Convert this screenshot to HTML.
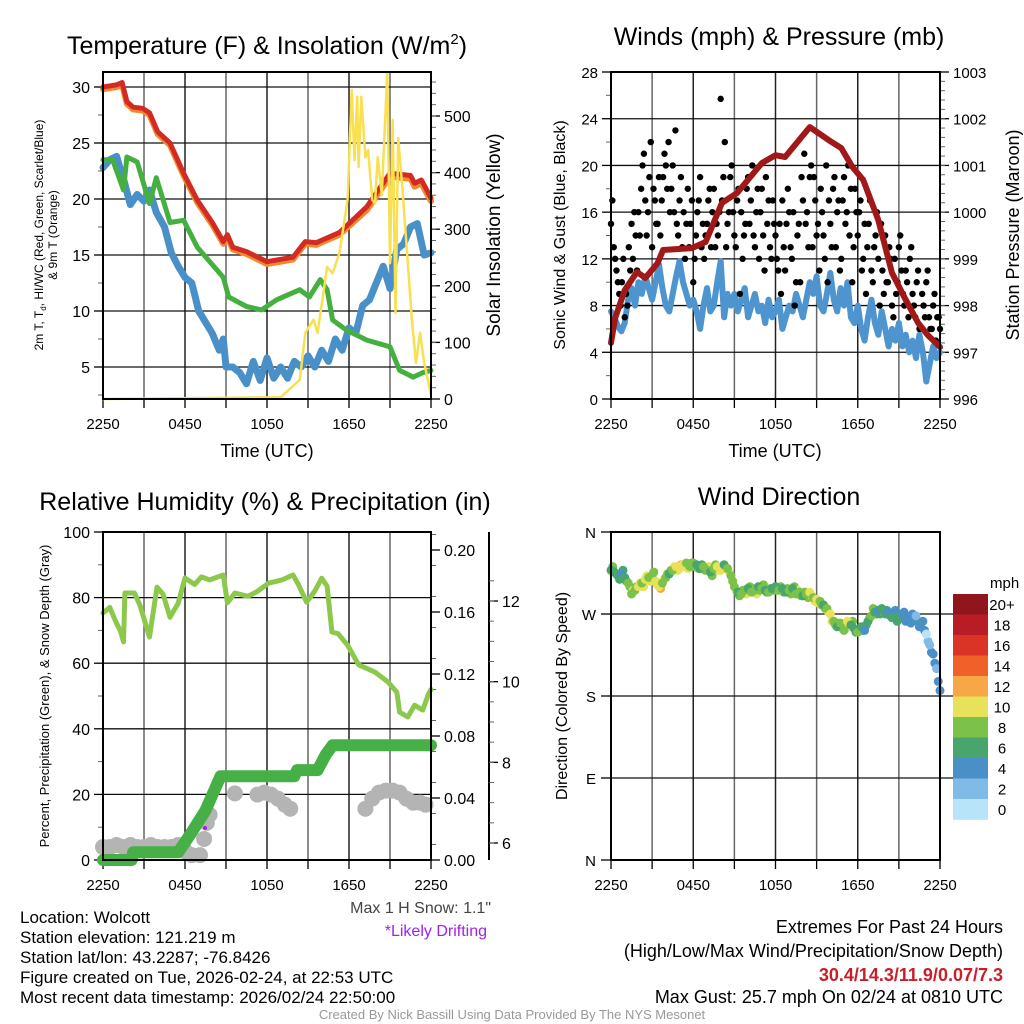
<!DOCTYPE html>
<html><head><meta charset="utf-8"><style>
html,body{margin:0;padding:0;background:#fff;}
svg{display:block;font-family:"Liberation Sans",sans-serif;}
</style></head><body>
<svg id="svg" width="1024" height="1024" viewBox="0 0 1024 1024" xmlns="http://www.w3.org/2000/svg">
<rect x="0" y="0" width="1024" height="1024" fill="#fff"/>
<g id="layer"></g>
<text x="267" y="54" font-size="25" text-anchor="middle">Temperature (F) &amp; Insolation (W/m<tspan font-size="15" dy="-10">2</tspan><tspan dy="10">)</tspan></text>
<text x="779" y="45" font-size="25" text-anchor="middle">Winds (mph) &amp; Pressure (mb)</text>
<text x="265" y="510" font-size="25" text-anchor="middle">Relative Humidity (%) &amp; Precipitation (in)</text>
<text x="779" y="505" font-size="25" text-anchor="middle">Wind Direction</text>
<text x="267" y="457" font-size="18" text-anchor="middle">Time (UTC)</text>
<text x="775" y="457" font-size="18" text-anchor="middle">Time (UTC)</text>
<text transform="translate(43,235) rotate(-90)" font-size="12" text-anchor="middle">2m T, T<tspan font-size="8" dy="3">d</tspan><tspan dy="-3">, HI/WC (Red, Green, Scarlet/Blue)</tspan></text>
<text transform="translate(57,235) rotate(-90)" font-size="12" text-anchor="middle">&amp; 9m T (Orange)</text>
<text transform="translate(500,235) rotate(-90)" font-size="19" text-anchor="middle">Solar Insolation (Yellow)</text>
<text transform="translate(565,235) rotate(-90)" font-size="16" text-anchor="middle">Sonic Wind &amp; Gust (Blue, Black)</text>
<text transform="translate(1019,235) rotate(-90)" font-size="18" text-anchor="middle">Station Pressure (Maroon)</text>
<text transform="translate(49,696) rotate(-90)" font-size="13" text-anchor="middle">Percent, Precipitation (Green), &amp; Snow Depth (Gray)</text>
<text transform="translate(567,696) rotate(-90)" font-size="16" text-anchor="middle">Direction (Colored By Speed)</text>
<text x="491" y="913" font-size="16" fill="#444" text-anchor="end">Max 1 H Snow: 1.1"</text>
<text x="487" y="936" font-size="16" fill="#a020f0" text-anchor="end">*Likely Drifting</text>
<g font-size="17">
<text x="20" y="923">Location: Wolcott</text>
<text x="20" y="943">Station elevation: 121.219 m</text>
<text x="20" y="963">Station lat/lon: 43.2287; -76.8426</text>
<text x="20" y="983">Figure created on Tue, 2026-02-24, at 22:53 UTC</text>
<text x="20" y="1003">Most recent data timestamp: 2026/02/24 22:50:00</text>
</g>
<g font-size="18" text-anchor="end">
<text x="1003" y="933">Extremes For Past 24 Hours</text>
<text x="1003" y="957">(High/Low/Max Wind/Precipitation/Snow Depth)</text>
<text x="1003" y="981" fill="#c8202a" font-weight="bold">30.4/14.3/11.9/0.07/7.3</text>
<text x="1003" y="1003">Max Gust: 25.7 mph On 02/24 at 0810 UTC</text>
</g>
<text x="512" y="1019" font-size="13" fill="#999" text-anchor="middle">Created By Nick Bassill Using Data Provided By The NYS Mesonet</text>
</svg>
<script>
// ---- data ----
const timeLabels = ["2250","0450","1050","1650","2250"];
const tHours = [0,1.0,1.4,1.75,2.2,2.9,3.4,4.0,4.9,5.9,6.9,8.0,8.8,9.1,9.5,10.5,12.0,13.9,14.8,15.6,17.3,19.3,21.0,22.5,22.8,23.3,24];
const tRed = [30,30.2,30.4,28.7,28.2,28.1,27.7,26.0,25.0,22.3,19.9,17.9,16.2,16.8,15.7,15.3,14.4,14.8,16.2,16.1,17.0,19.3,22.3,22.1,21.4,21.7,20.1];
const tOrange = [29.8,30.0,30.2,28.5,28.0,27.9,27.5,25.8,24.8,22.1,19.7,17.7,16.0,16.6,15.5,15.1,14.2,14.6,16.0,15.9,16.8,19.0,22.0,21.8,21.1,21.4,19.8];
const dHours = [0,0.7,1.5,1.75,2.5,3.4,3.9,4.9,5.9,6.9,8.8,9.2,10.5,11.6,12.7,14.4,15.1,15.9,16.4,16.8,17.8,19.3,21.0,21.7,22.7,23.4,24];
const tDew = [23.5,23.5,20.8,23.75,23.3,19.6,21.9,17.9,18.1,15.7,13.0,11.25,10.4,10.1,11.0,11.9,11.25,12.8,11.9,9.2,8.3,7.4,6.8,4.7,4.1,4.5,4.7];
const wcHours = [0,0.5,1,1.3,1.5,2,2.5,3,3.4,3.9,4.5,5,5.5,6,6.5,7,7.5,8,8.5,8.8,9,9.5,10,10.5,11,11.5,12,12.5,13,13.5,14,14.5,15,15.5,16,16.5,17,17.5,18,18.5,19,19.5,20,20.5,21,21.5,22,22.5,23,23.5,24];
const tWindChill = [22.8,23.5,23.8,22.5,21.8,19.5,20.4,19.8,20.8,18.8,17.5,15.2,14.0,13.0,12.5,10.0,9.0,8.0,6.5,7.5,5.0,5.0,4.5,3.5,5.5,3.8,5.8,4.0,5.0,4.0,5.5,5.0,6.0,5.0,6.5,5.5,7.5,6.5,8.5,8.0,10.5,11.0,12.5,14,12,15.5,16,17.5,17.8,15,15.2];
const solHours = [0,13,14.4,14.8,15.4,15.7,16.4,16.8,17.3,17.9,18.2,18.4,18.6,18.7,18.9,19.2,19.4,19.7,19.9,20.1,20.4,20.8,21,21.2,21.4,21.6,21.9,22.6,22.9,23.2,23.5,24];
const solar = [0,3,34,117,140,117,233,222,258,352,546,422,534,410,534,427,440,352,345,427,360,578,240,493,152,461,375,140,64,117,64,7];
const tempTicks = [5,10,15,20,25,30];
const solarTicks = [0,100,200,300,400,500];

const windTicks = [0,4,8,12,16,20,24,28];
const presTicks = [996,997,998,999,1000,1001,1002,1003];
const windSpeed = [7.5,7.0,6.2,5.8,6.5,8.5,9.5,8.0,10.0,9.0,10.5,9.5,
 8.5,10.0,11.5,9.5,8.0,7.5,9.0,10.5,11.8,10.0,9.0,8.0,
 8.5,7.5,6.0,8.0,9.5,7.5,8.0,10.0,11.8,7.0,9.0,8.0,
 9.0,7.5,8.5,9.5,7.0,8.0,9.0,7.5,8.0,6.5,8.5,7.0,
 7.5,8.5,6.0,7.0,8.0,7.5,9.0,8.0,7.0,8.5,10.0,9.0,
 10.5,8.0,7.5,9.0,10.8,8.5,7.5,9.5,8.0,10.0,7.0,6.5,
 8.0,6.0,5.0,7.0,8.5,6.5,5.5,7.5,6.0,4.5,6.0,5.0,
 6.5,4.5,5.5,4.0,5.0,3.5,5.5,4.0,1.5,3.0,4.5,3.5,4.0];
const windGust = [15,13,11,9,10,7,8,11,12,14,
 16,18,21,14,19,13,17,15,14,19,
 20,22,18,16,15,17,13,12,18,15,
 10,14,17,13,12,15,18,16,13,14,
 25.7,19,13,16,20,14,17,9,12,15,
 19,17,14,16,12,18,11,15,13,17,
 14,11,9,13,15,16,12,8,14,10,
 17,15,13,20,19,14,11,16,12,10,
 15,18,13,17,12,19,16,14,10,18,
 14,17,12,9,15,11,13,16,8,11,
 14,10,12,7,9,13,11,8,10,12,
 9,7,11,6,8,10,7,6,9,7,6];
const windGustB = [17,12,10,8,12,9,13,15,16,11,
 14,20,17,16,22,18,15,19,17,21,
 18,16,20,23,14,19,16,15,13,17,
 12,16,19,15,14,17,13,18,15,16,
 17,22,15,19,16,13,18,16,14,18,
 15,20,13,18,16,14,19,17,12,15,
 12,15,17,11,18,13,16,10,15,19,
 21,16,19,13,17,15,18,14,20,17,
 13,19,16,11,17,15,20,18,13,16,
 16,11,15,13,17,10,14,12,15,9,
 10,13,8,12,10,14,9,11,7,13,
 8,10,6,9,7,11,6,8,5,7];
const presHours = [0,0.3,1.0,1.9,2.5,3.4,3.8,5.9,6.9,8.1,9.2,11.0,12.0,12.7,14.5,16.1,16.8,17.6,18.4,19.5,20.5,21.4,22.4,23.1,24.0];
const pressure = [997.2,997.73,998.33,998.72,998.59,998.91,999.19,999.23,999.36,1000.20,1000.41,1001.05,1001.22,1001.18,1001.82,1001.50,1001.37,1000.97,1000.69,999.83,998.70,998.18,997.63,997.37,997.11];

const rhTicks = [0,20,40,60,80,100];
const precipTicks = ["0.00","0.04","0.08","0.12","0.16","0.20"];
const snowTicks = [6,8,10,12];
const rhHours = [0,0.5,0.9,1.3,1.5,1.6,2.3,2.7,3.4,3.95,4.4,4.9,5.5,6,6.7,7.2,7.8,8.8,9.1,9.65,10.6,11.3,12.1,13.1,13.9,14.3,14.9,15.5,16,16.4,16.75,17.2,17.9,18.7,19.9,20.85,21.5,21.7,22.3,22.8,23.4,23.8,24];
const rh = [75.3,77,73,69.5,66.5,81.4,81.4,77.7,68,83.2,81,74,78.3,86,84,86.3,85.4,86.9,78.4,81.4,80.4,81.9,84.4,85.4,86.9,84,78.6,82,85.9,83.5,69.5,69,65.5,59.5,57.3,54.3,51.2,45.1,43.6,47.2,45.7,50.5,52];
const precipHours = [0,2.1,2.2,5.5,6.5,7.5,8.6,14.0,14.2,15.7,16.3,16.8,24];
const precip = [0,0,0.005,0.005,0.018,0.032,0.054,0.054,0.058,0.058,0.068,0.074,0.074];
const snowHours = [0,0.5,1,1.5,2,2.5,3,3.5,4,4.5,5,5.5,6,6.5,7.1,7.4,7.6,7.8,9.65,11.3,11.8,12.3,12.8,13.3,13.7,19.2,19.7,20.2,20.7,21.2,21.7,22.2,22.7,23.2,23.6];
const snowDepth = [5.9,5.9,5.95,5.9,5.95,5.9,5.9,5.95,5.9,5.9,5.9,5.95,5.8,5.7,5.7,6.1,6.5,6.7,7.23,7.2,7.25,7.2,7.1,6.95,6.85,6.85,7.1,7.25,7.3,7.3,7.25,7.1,7.0,7.0,6.95];

const dirTicks = ["N","E","S","W","N"];
const windDir = [318,316,312,314,310,304,292,296,300,304,308,310,
 312,306,300,304,310,314,318,322,320,324,326,322,
 326,324,320,322,318,316,320,322,318,324,320,312,
 300,294,292,296,298,294,296,300,298,296,294,298,
 300,296,298,294,296,298,292,294,290,292,294,288,
 286,284,280,276,270,262,256,260,252,262,258,254,
 250,256,252,262,268,272,274,276,270,272,266,274,
 268,270,262,264,270,268,256,262,248,236,226,210,186];
const windDirB = [322,314,308,318,306,300,296,300,304,300,312,306,
 316,302,298,308,314,318,322,318,324,322,320,326,
 322,320,324,318,322,312,324,318,322,320,316,306,
 296,290,296,292,300,298,292,296,302,294,298,296,
 296,300,294,298,292,300,296,290,294,288,290,284,
 282,280,276,272,262,258,260,254,258,256,262,250,
 254,252,258,266,276,270,270,272,274,268,270,262,
 266,272,266,260,268,262,260,252,240,228,216,196];
const cbLabels = ["20+","18","16","14","12","10","8","6","4","2","0"];
const cbColors = ["#8f161c","#b81c25","#dc3327","#f0612a","#f7a745","#e7e25a","#7cc24a","#48a66c","#4a8fc6","#7fbbe6","#b8e3f8"];

// ---- helpers ----
const NS="http://www.w3.org/2000/svg";
const layer=document.getElementById('layer');
function mk(tag,attrs,parent){const e=document.createElementNS(NS,tag);for(const k in attrs)e.setAttribute(k,attrs[k]);(parent||layer).appendChild(e);return e;}
function lin(d0,d1,r0,r1){return v=>r0+(v-d0)*(r1-r0)/(d1-d0);}
function pathD(xs,ys,fx,fy){return xs.map((h,i)=>(i?'L':'M')+fx(h).toFixed(1)+','+fy(ys[i]).toFixed(1)).join('');}

function panelFrame(x0,x1,y0,y1,name){
  const g=mk('g',{});
  
  
  const fx=lin(0,24,x0,x1);
  for(let h=3;h<24;h+=3){
    const line=mk('line',{x1:fx(h),x2:fx(h),y1:y0,y2:y1,stroke:(h%6==0)?'#222':'#666','stroke-width':1.5},g);
    
    
  }
  for(let h=0;h<=24;h+=3){
    const t=mk('line',{x1:fx(h),x2:fx(h),y1:y1,y2:y1+9,stroke:'#000','stroke-width':1.3},g);
    
    
  }
  timeLabels.forEach((s,i)=>{
    const t=mk('text',{x:fx(i*6),y:y1+30,'font-size':15,'text-anchor':'middle'},g);
    t.textContent=s;
    
    
  });
  return fx;
}
function hGrid(ys,x0,x1){ys.forEach(y=>{const l=mk('line',{x1:x0,x2:x1,y1:y,y2:y,stroke:'#111','stroke-width':1.3});
 
 });}
function border(x0,x1,y0,y1,name){const r=mk('rect',{x:x0,y:y0,width:x1-x0,height:y1-y0,fill:'none',stroke:'#000','stroke-width':2});
 
 }
function yTicks(vals,fy,x,side,labels,fs,minor){
  vals.forEach((v,i)=>{
    const y=fy(v);
    mk('line',{x1:x,x2:x+side*9,y1:y,y2:y,stroke:'#000','stroke-width':1.3});
    const t=mk('text',{x:x+side*13,y:y+6,'font-size':fs||16,'text-anchor':side<0?'end':'start'});
    t.textContent=labels?labels[i]:v;
    
    
  });
  if(minor) minor.forEach(v=>{const y=fy(v);mk('line',{x1:x,x2:x+side*5,y1:y,y2:y,stroke:'#666','stroke-width':1});});
}
function series(xs,ys,fx,fy,color,w,name){
  const p=mk('path',{d:pathD(xs,ys,fx,fy),fill:'none',stroke:color,'stroke-width':w,'stroke-linejoin':'round','stroke-linecap':'round'});
  
  
  return p;
}
function speedColor(s){let i=Math.min(10,Math.floor(s/2));return cbColors[10-i];}

// ---- panel 1 ----
(function(){
  const x0=103,x1=431,y0=72,y1=399;
  const fx=panelFrame(x0,x1,y0,y1,'temperature');
  const fy=lin(30,5,87,367), fs=lin(0,500,399,116);
  hGrid(tempTicks.map(fy),x0,x1);
  const m=[];for(let v=2.5;v<31;v+=5)m.push(v);
  yTicks(tempTicks,fy,x0,-1,null,16,m);
  const ms=[];for(let v=20;v<=570;v+=20)ms.push(v);
  yTicks(solarTicks,fs,x1,1,null,16,ms);
  series(wcHours,tWindChill,fx,fy,'#4a90c8',7,'wind-chill-line');
  series(dHours,tDew,fx,fy,'#45b040',5,'dewpoint-line');
  series(tHours,tOrange,fx,fy,'#f08a30',6,'9m-temperature-line');
  series(tHours,tRed,fx,fy,'#d42a24',5,'2m-temperature-line');
  series(solHours,solar,fx,fs,'#f8e050',2.5,'solar-insolation-line');
  border(x0,x1,y0,y1,'temperature-plot-area');
})();

// ---- panel 2 ----
(function(){
  const x0=611,x1=940,y0=72,y1=399;
  const fx=panelFrame(x0,x1,y0,y1,'winds');
  const fy=lin(0,28,399,72), fp=lin(996,1003,399,72);
  hGrid(windTicks.slice(1,-1).map(fy),x0,x1);
  const m=[];for(let v=2;v<28;v+=4)m.push(v);
  yTicks(windTicks,fy,x0,-1,null,15,m);
  const mp=[];for(let v=996.2;v<1003;v+=0.2)mp.push(v);
  yTicks(presTicks,fp,x1,1,null,15,mp);
  const wh=windSpeed.map((_,i)=>i*0.25);
  series(wh,windSpeed,fx,fy,'#4e95d0',6,'sonic-wind-line');
  const step=24/(windGust.length-1);
  windGust.forEach((g,i)=>{
    const c=mk('circle',{cx:fx(i*step),cy:fy(g),r:3.2,fill:'#000'});
    
    
  });
  windGustB.forEach((g,i)=>{
    const c=mk('circle',{cx:fx(i*step+step/2),cy:fy(g),r:3.2,fill:'#000'});
    
    
  });
  series(presHours,pressure,fx,fp,'#a01818',6,'pressure-line');
  border(x0,x1,y0,y1,'winds-plot-area');
})();

// ---- panel 3 ----
(function(){
  const x0=103,x1=431,y0=532,y1=860;
  const fx=panelFrame(x0,x1,y0,y1,'humidity');
  const fy=lin(0,100,860,532), fpr=lin(0,0.2,860,550), fsn=lin(6,12,843,601);
  hGrid([20,40,60,80].map(fy),x0,x1);
  const m=[];for(let v=10;v<100;v+=20)m.push(v);
  yTicks(rhTicks,fy,x0,-1,null,16,m);
  const mpv=[];for(let v=0.01;v<0.21;v+=0.02)mpv.push(v);
  yTicks(precipTicks.map(Number),fpr,x1,1,precipTicks,16,mpv);
  const sp=mk('line',{x1:489,x2:489,y1:532,y2:860,stroke:'#000','stroke-width':2});
  
  
  const ms=[];for(let v=5.5;v<13;v+=0.5)ms.push(v);
  yTicks(snowTicks,fsn,489,1,null,16,ms.filter(v=>fsn(v)>532&&fsn(v)<860));
  snowHours.forEach((h,i)=>{
    const c=mk('circle',{cx:fx(h),cy:fsn(snowDepth[i]),r:8,fill:'#b4b4b4'});
    
    
  });
  const pd=mk('circle',{cx:205,cy:828,r:2,fill:'#a020f0'});
  
  
  series(rhHours,rh,fx,fy,'#8cc84b',5,'relative-humidity-line');
  series(precipHours,precip,fx,fpr,'#46b046',12,'precipitation-line');
  border(x0,x1,y0,y1,'humidity-plot-area');
})();

// ---- panel 4 ----
(function(){
  const x0=611,x1=940,y0=532,y1=860;
  const fx=panelFrame(x0,x1,y0,y1,'direction');
  const fy=lin(0,360,860,532);
  hGrid([90,180,270].map(fy),x0,x1+14);
  dirTicks.forEach((s,i)=>{
    const y=fy(i*90);
    mk('line',{x1:x0-10,x2:x0,y1:y,y2:y,stroke:'#000','stroke-width':1.3});
    const t=mk('text',{x:x0-15,y:y+6,'font-size':15,'text-anchor':'end'});
    t.textContent=s;
    
    
  });
  windDirB.forEach((d,i)=>{
    const c=mk('circle',{cx:fx(i*0.25+0.125),cy:fy(d),r:4.5,fill:speedColor(windSpeed[i]+1)});
    
    
  });
  windDir.forEach((d,i)=>{
    const c=mk('circle',{cx:fx(i*0.25),cy:fy(d),r:4.5,fill:speedColor(windSpeed[i])});
    
    
  });
  border(x0,x1,y0,y1,'direction-plot-area');
  const t=mk('text',{x:990,y:588,'font-size':15});
  t.textContent='mph';
  
  
  cbLabels.forEach((s,i)=>{
    const r=mk('rect',{x:953,y:594+i*20.5,width:35,height:20.8,fill:cbColors[i]});
    
    
    const l=mk('text',{x:1002,y:594+i*20.5+16,'font-size':15,'text-anchor':'middle'});
    l.textContent=s;
    
    
  });
})();
</script>
</body></html>
